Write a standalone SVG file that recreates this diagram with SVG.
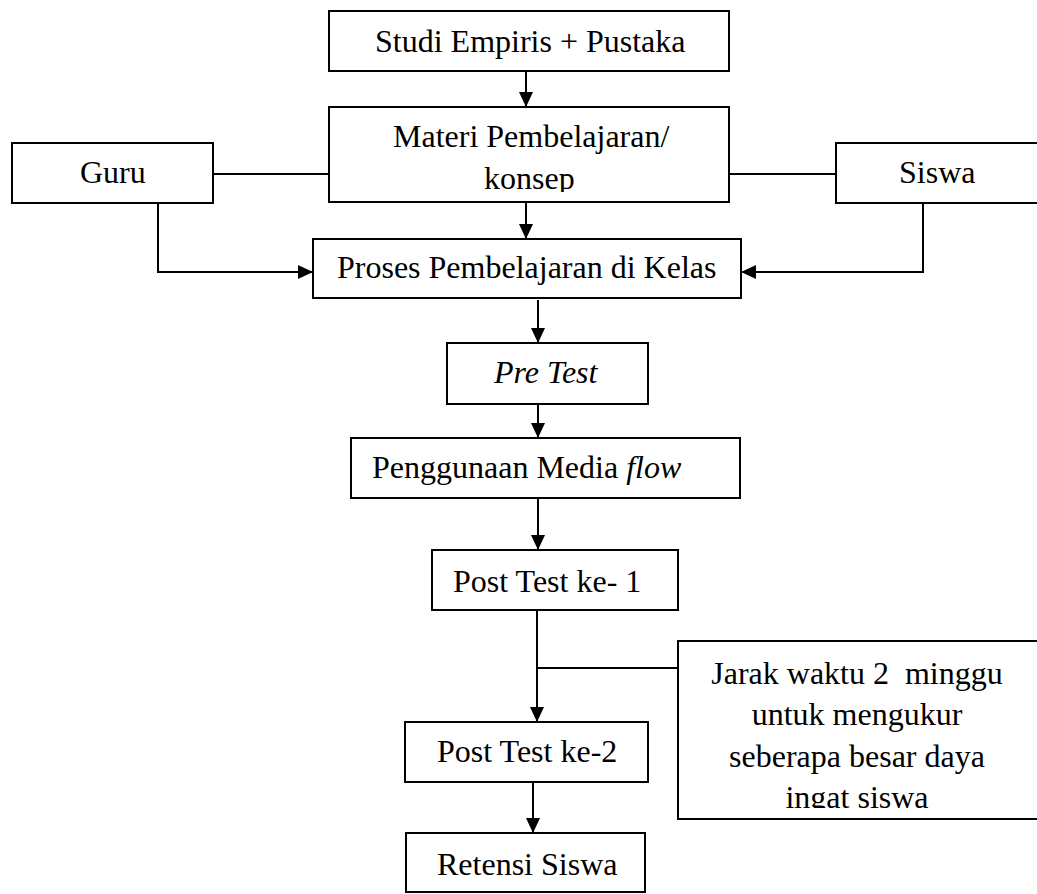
<svg xmlns="http://www.w3.org/2000/svg" width="1037" height="894" viewBox="0 0 1037 894">
<style>
.box{fill:#fff;stroke:#000;stroke-width:2}
.t{font-family:"Liberation Serif","Times New Roman",serif;font-size:32px;fill:#000}
.i{font-style:italic}
.c{fill:none;stroke:#000;stroke-width:2}
</style>
<defs>
<marker id="ah" markerUnits="userSpaceOnUse" markerWidth="15" markerHeight="14" refX="15" refY="7" orient="auto">
<path d="M0,0 L15,7 L0,14 z" fill="#000"/>
</marker>
<clipPath id="clipMateri"><rect x="329" y="107" width="400" height="85"/></clipPath>
<clipPath id="clipJarak"><rect x="678" y="641" width="370" height="167"/></clipPath>
</defs>
<rect width="1037" height="894" fill="#fff"/>
<g id="connectors">
<path class="c" d="M526,71 V107" marker-end="url(#ah)"/>
<path class="c" d="M526,202 V239" marker-end="url(#ah)"/>
<path class="c" d="M213,174 H329"/>
<path class="c" d="M729,174 H836"/>
<path class="c" d="M158,203 V272 H313" marker-end="url(#ah)"/>
<path class="c" d="M923,203 V272 H741" marker-end="url(#ah)"/>
<path class="c" d="M538,300 V343" marker-end="url(#ah)"/>
<path class="c" d="M538,404 V438" marker-end="url(#ah)"/>
<path class="c" d="M538,498 V550" marker-end="url(#ah)"/>
<path class="c" d="M537,610 V722" marker-end="url(#ah)"/>
<path class="c" d="M537,668 H678"/>
<path class="c" d="M533,782 V833" marker-end="url(#ah)"/>
</g>
<g id="studi">
<rect class="box" x="329" y="11" width="400" height="60"/>
<text class="t" x="375" y="52">Studi Empiris + Pustaka</text>
</g>
<g id="materi">
<rect class="box" x="329" y="107" width="400" height="95"/>
<g clip-path="url(#clipMateri)">
<text class="t" x="393" y="147">Materi Pembelajaran/</text>
<text class="t" x="484" y="189">konsep</text>
</g>
</g>
<g id="guru">
<rect class="box" x="12" y="143" width="201" height="60"/>
<text class="t" x="80" y="183">Guru</text>
</g>
<g id="siswa">
<rect class="box" x="836" y="143" width="210" height="60"/>
<text class="t" x="899" y="183">Siswa</text>
</g>
<g id="proses">
<rect class="box" x="313" y="239" width="428" height="59"/>
<text class="t" x="337" y="278">Proses Pembelajaran di Kelas</text>
</g>
<g id="pretest">
<rect class="box" x="447" y="343" width="201" height="61"/>
<text class="t i" x="494" y="383">Pre Test</text>
</g>
<g id="penggunaan">
<rect class="box" x="351" y="438" width="389" height="60"/>
<text class="t" x="372" y="478">Penggunaan Media <tspan class="i">flow</tspan></text>
</g>
<g id="posttest1">
<rect class="box" x="432" y="550" width="246" height="60"/>
<text class="t" x="453" y="592">Post Test ke- 1</text>
</g>
<g id="jarak">
<rect class="box" x="678" y="641" width="370" height="178"/>
<g clip-path="url(#clipJarak)">
<text class="t" text-anchor="middle" x="857" y="684">Jarak waktu 2&#160; minggu</text>
<text class="t" text-anchor="middle" x="857" y="725">untuk mengukur</text>
<text class="t" text-anchor="middle" x="857" y="767">seberapa besar daya</text>
<text class="t" text-anchor="middle" x="857" y="808">ingat siswa</text>
</g>
</g>
<g id="posttest2">
<rect class="box" x="405" y="722" width="243" height="60"/>
<text class="t" x="437" y="762">Post Test ke-2</text>
</g>
<g id="retensi">
<rect class="box" x="406" y="833" width="239" height="59"/>
<text class="t" x="437" y="875">Retensi Siswa</text>
</g>
</svg>
